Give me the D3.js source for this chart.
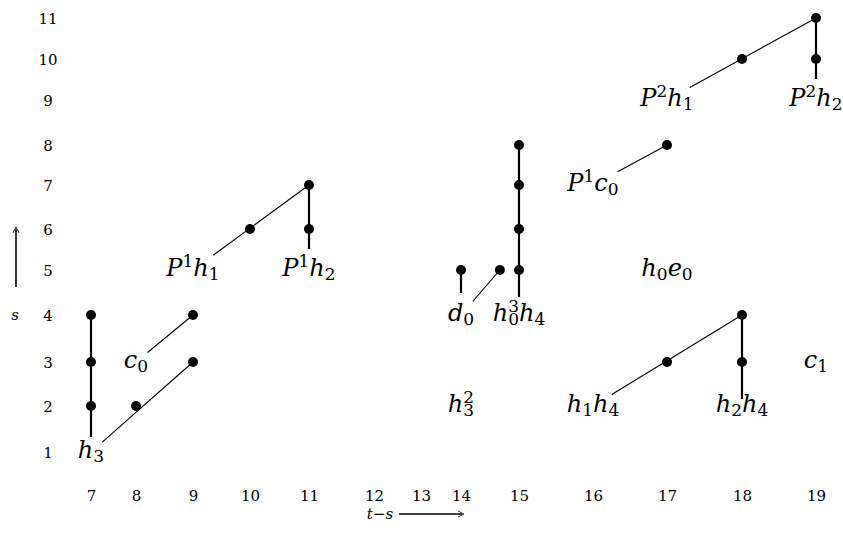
<!DOCTYPE html>
<html>
<head>
    <meta charset="utf-8">
    <title>Adams chart</title>
    <script src="https://d3js.org/d3.v7.min.js"></script>
    <style>
        body { margin: 0; background: #fff; }
        svg text { font-family: "DejaVu Serif", serif; fill: #000; }
    </style>
</head>
<body>
    <script>
        var width = 843;
        var height = 547;

        // tick values on both axes
        var xTicks = [7, 8, 9, 10, 11, 12, 13, 14, 15, 16, 17, 18, 19];
        var yTicks = [1, 2, 3, 4, 5, 6, 7, 8, 9, 10, 11];

        // dots [t-s, s]
        var dots = [
            [7, 2], [7, 3], [7, 4], [8, 2], [9, 3], [9, 4],
            [10, 6], [11, 7], [11, 6],
            [14, 5], [14.67, 5], [15, 5], [15, 6], [15, 7], [15, 8],
            [17, 8], [18, 10], [19, 11], [19, 10],
            [17, 3], [18, 4], [18, 3]
        ];

        // named classes [t-s, s, name]
        var labels = [
            [7, 1, "h_3"], [8, 3, "c_0"], [9, 5, "P^1h_1"], [11, 5, "P^1h_2"],
            [14, 4, "d_0"], [15, 4, "h_0^3h_4"], [14, 2, "h_3^2"],
            [16, 7, "P^1c_0"], [17, 5, "h_0e_0"], [17, 9, "P^2h_1"], [19, 9, "P^2h_2"],
            [16, 2, "h_1h_4"], [18, 2, "h_2h_4"], [19, 3, "c_1"]
        ];

        // h0 multiplications (vertical) [from, to, gap at start]
        var h0Lines = [
            [[7, 1], [7, 4], 15], [[11, 5], [11, 7], 21], [[14, 4], [14, 5], 22],
            [[15, 4], [15, 8], 18], [[19, 9], [19, 11], 21], [[18, 2], [18, 4], 7]
        ];
        // h1 multiplications (diagonal)
        var h1Lines = [
            [[7, 1], [9, 3], 15], [[8, 3], [9, 4], 15], [[9, 5], [11, 7], 25],
            [[14, 4], [14.67, 5], 18], [[16, 7], [17, 8], 28], [[17, 9], [19, 11], 26],
            [[16, 2], [18, 4], 22]
        ];

        var x = d3.scaleLinear()
            .domain(xTicks)
            .range([91, 136, 193, 250, 309, 374, 421, 461, 519, 593, 667, 742, 816]);
        var y = d3.scaleLinear()
            .domain(yTicks)
            .range([452, 406, 362, 315, 270, 229, 185, 145, 100, 59, 18]);

        var svg = d3.select("body").append("svg")
            .attr("width", width)
            .attr("height", height);

        var xAxis = svg.append("g")
            .attr("transform", "translate(0,490)")
            .call(d3.axisBottom(x).tickValues(xTicks).tickSize(0).tickPadding(0));
        var yAxis = svg.append("g")
            .attr("transform", "translate(48,0)")
            .call(d3.axisLeft(y).tickValues(yTicks).tickSize(0).tickPadding(0));
        svg.selectAll(".domain").remove();
        svg.selectAll(".tick text")
            .attr("font-size", 15)
            .style("font-family", "'DejaVu Serif', serif");
        yAxis.selectAll(".tick text").attr("text-anchor", "middle").attr("dy", "0.35em");
        xAxis.selectAll(".tick text").attr("dy", "0.71em");

        function trimmed(d) {
            var x1 = x(d[0][0]), y1 = y(d[0][1]);
            var x2 = x(d[1][0]), y2 = y(d[1][1]);
            var len = Math.sqrt((x2 - x1) * (x2 - x1) + (y2 - y1) * (y2 - y1));
            return [x1 + (x2 - x1) * d[2] / len, y1 + (y2 - y1) * d[2] / len, x2, y2];
        }

        svg.selectAll("line.h0")
            .data(h0Lines)
            .enter().append("line")
            .attr("class", "h0")
            .each(function(d) {
                var p = trimmed(d);
                d3.select(this).attr("x1", p[0]).attr("y1", p[1]).attr("x2", p[2]).attr("y2", p[3]);
            })
            .style("stroke", "#000")
            .style("stroke-width", 2.2);

        svg.selectAll("line.h1")
            .data(h1Lines)
            .enter().append("line")
            .attr("class", "h1")
            .each(function(d) {
                var p = trimmed(d);
                d3.select(this).attr("x1", p[0]).attr("y1", p[1]).attr("x2", p[2]).attr("y2", p[3]);
            })
            .style("stroke", "#000")
            .style("stroke-width", 1.1);

        svg.selectAll("circle.dot")
            .data(dots)
            .enter().append("circle")
            .attr("class", "dot")
            .attr("cx", function(d) { return x(d[0]); })
            .attr("cy", function(d) { return y(d[1]); })
            .attr("r", 5)
            .style("fill", "#000");

        // split "h_0^3h_4" into pieces, stacking sub/sup pairs
        function pieces(name) {
            var out = [];
            var re = /([A-Za-z])|([_^])(\d)/g, m;
            while ((m = re.exec(name)) !== null) {
                if (m[1]) out.push({ t: m[1], kind: "base" });
                else out.push({ t: m[3], kind: m[2] === "_" ? "sub" : "sup" });
            }
            return out;
        }

        var baseSize = 24, smallSize = 17;
        labels.forEach(function(l) {
            var g = svg.append("g");
            var cursor = 0, lastScript = null;
            pieces(l[2]).forEach(function(p) {
                var t = g.append("text").text(p.t);
                if (p.kind === "base") {
                    t.attr("font-size", baseSize).style("font-style", "italic");
                    t.attr("x", cursor).attr("y", 0);
                    cursor += t.node().getComputedTextLength();
                    lastScript = null;
                } else {
                    t.attr("font-size", smallSize);
                    var start = cursor;
                    if (lastScript) start = lastScript.start;
                    t.attr("x", start).attr("y", p.kind === "sub" ? 4 : -9);
                    var end = start + t.node().getComputedTextLength();
                    cursor = lastScript ? Math.max(lastScript.end, end) : end;
                    lastScript = { start: start, end: end };
                }
            });
            g.attr("transform", "translate(" + (x(l[0]) - cursor / 2) + "," + (y(l[1]) + 6) + ")");
        });

        // axis direction markers
        var arrows = svg.append("g");
        arrows.append("text")
            .attr("x", 15).attr("y", 320)
            .attr("text-anchor", "middle")
            .attr("font-size", 15).style("font-style", "italic")
            .text("s");
        arrows.append("line")
            .attr("x1", 16).attr("y1", 287).attr("x2", 16).attr("y2", 229)
            .style("stroke", "#000").style("stroke-width", 1.6);
        arrows.append("path")
            .attr("d", "M13,233 L16,227 L19,233")
            .style("fill", "none").style("stroke", "#000").style("stroke-width", 0.8);
        arrows.append("text")
            .attr("x", 380).attr("y", 519)
            .attr("text-anchor", "middle")
            .attr("font-size", 15).style("font-style", "italic")
            .text("t\u2212s");
        arrows.append("line")
            .attr("x1", 399).attr("y1", 514).attr("x2", 462).attr("y2", 514)
            .style("stroke", "#000").style("stroke-width", 1.6);
        arrows.append("path")
            .attr("d", "M458,511 L464,514 L458,517")
            .style("fill", "none").style("stroke", "#000").style("stroke-width", 0.8);
    </script>
</body>
</html>
